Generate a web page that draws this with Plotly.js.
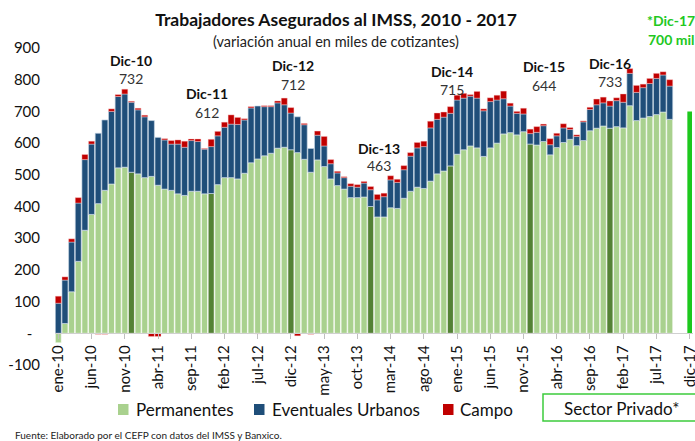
<!DOCTYPE html>
<html><head><meta charset="utf-8">
<script src="https://cdn.plot.ly/plotly-3.0.1.min.js"></script>
<style>html,body{margin:0;padding:0;background:#fff}#chart{width:695px;height:441px}</style>
</head><body><div id="chart"></div>
<script>
// ---- DATA ----
const monthNames = ['ene','feb','mar','abr','may','jun','jul','ago','sep','oct','nov','dic'];
const years = ['10','11','12','13','14','15','16','17'];
const categories = [];
years.forEach(y => monthNames.forEach(m => categories.push(m + '-' + y)));

const permanentes = [
  -30, 31, 131, 227, 325, 375, 409, 451, 471, 522, 524, 508,
  503, 491, 495, 467, 455, 451, 440, 435, 448, 448, 440, 441,
  469, 491, 491, 487, 505, 538, 550, 560, 568, 584, 587, 579,
  570, 549, 508, 547, 526, 487, 466, 455, 428, 428, 430, 400,
  367, 367, 396, 394, 426, 448, 461, 457, 480, 503, 512, 528,
  565, 579, 591, 585, 558, 585, 600, 629, 633, 626, 636, 597,
  594, 605, 563, 586, 602, 612, 592, 608, 639, 647, 654, 647,
  652, 648, 718, 671, 679, 684, 690, 698, 675
];
const eventuales = [
  95, 137, 157, 184, 223, 222, 222, 222, 229, 225, 231, 221,
  202, 192, 176, 151, 155, 146, 157, 152, 160, 157, 141, 148,
  154, 159, 169, 172, 168, 173, 167, 155, 147, 143, 134, 116,
  113, 109, 75, 78, 65, 48, 40, 36, 36, 33, 44, 53,
  54, 64, 88, 82, 90, 111, 124, 132, 168, 172, 170, 166,
  171, 163, 157, 157, 144, 146, 136, 111, 84, 68, 56, 33,
  40, 50, 32, 37, 46, 31, 29, 59, 67, 74, 73, 70,
  82, 81, 102, 89, 96, 104, 114, 117, 105
];
const campo = [
  22, 10, 10, 17, 16, 9, -3, -3, 8, 6, 15, 3,
  5, 5, -10, -10, 4, 11, 13, 19, 5, 8, 2, 23,
  14, 16, 29, 22, 4, 4, -2, 3, 3, 6, 21, 17,
  -8, 4, -3, 13, 30, 13, 5, 3, 8, 8, 5, 10,
  17, 11, 13, 10, 13, 11, 17, 17, 21, 20, 16, 21,
  15, 15, 5, 21, 6, 12, 15, 24, 9, 6, 18, 14,
  18, 5, 19, 8, 13, 6, 5, 3, 7, 18, 18, 16,
  9, 26, 15, 22, 11, 16, 16, 10, 20
];
const sectorPrivadoCat = ['dic-17'];
const sectorPrivado = [700];
const tickLabels = ['ene-10','jun-10','nov-10','abr-11','sep-11','feb-12','jul-12','dic-12',
  'may-13','oct-13','mar-14','ago-14','ene-15','jun-15','nov-15','abr-16','sep-16','feb-17','jul-17','dic-17'];
const highlightCats = ['dic-10','dic-11','dic-12','dic-13','dic-14','dic-15','dic-16'];
const highlightNames = ['Dic-10','Dic-11','Dic-12','Dic-13','Dic-14','Dic-15','Dic-16'];
const highlightValues = ['732','612','712','463','715','644','733'];
const yTickVals = [-100,0,100,200,300,400,500,600,700,800,900];
const yTickText = ['-100','-\u00a0\u00a0','100','200','300','400','500','600','700','800','900'];

// ---- LAYOUT HELPERS ----
const W = 695, H = 441, ML = 55, MR = 2, MT = 48, MB = 76;
const PW = W - ML - MR, PH = H - MT - MB;
const px = x => (x - ML) / PW;
const py = y => (H - MB - y) / PH;
const FONT = 'Lato, "Open Sans", sans-serif';

const nData = permanentes.length;
const xData = categories.slice(0, nData);
const permColors = xData.map(c => c.startsWith('dic') ? '#548235' : '#A9D18E');
const lineStyle = {color: 'rgba(255,255,255,0.85)', width: 0.7};

const traces = [
  {type: 'bar', name: 'Permanentes', x: xData, y: permanentes,
   marker: {color: permColors, line: lineStyle}, showlegend: false},
  {type: 'bar', name: 'Eventuales Urbanos', x: xData, y: eventuales,
   marker: {color: '#1F4E79', line: {color: 'rgba(200,215,230,0.9)', width: 0.7}}, showlegend: false},
  {type: 'bar', name: 'Campo', x: xData, y: campo,
   marker: {color: '#C00000', line: {color: 'rgba(255,200,200,0.8)', width: 0.5}}, showlegend: false},
  {type: 'bar', name: 'Sector Privado*', x: sectorPrivadoCat, y: sectorPrivado, width: 0.7,
   marker: {color: '#1DC81D'}, showlegend: false}
];

// label y positions (data units) for the highlight annotations
const nameY = [862, 755, 844, 584, 825, 841, 852];
const valY  = [804, 697, 786, 529, 770, 783, 793];
const xShift = [0, -4, 2, 8, 2, 14, 0];

const annotations = [];
const ann = o => annotations.push(Object.assign({showarrow: false, xanchor: 'center', yanchor: 'middle'}, o));
highlightCats.forEach((c, i) => {
  ann({x: c, y: nameY[i], xref: 'x', yref: 'y', text: '<b>' + highlightNames[i] + '</b>',
    xshift: xShift[i], font: {family: FONT, size: 14, color: '#111'}});
  ann({x: c, y: valY[i], xref: 'x', yref: 'y', text: highlightValues[i],
    xshift: xShift[i], font: {family: FONT, size: 14, color: '#333'}});
});
ann({xref: 'paper', yref: 'paper', x: px(336), y: py(42), text: '(variación anual en miles de cotizantes)',
  font: {family: FONT, size: 14.5, color: '#222'}});
ann({xref: 'paper', yref: 'paper', x: px(671), y: py(20), text: '<b>*Dic-17</b>',
  font: {family: FONT, size: 14, color: '#22C81E'}});
ann({xref: 'paper', yref: 'paper', x: px(671), y: py(40), text: '<b>700 mil</b>',
  font: {family: FONT, size: 14, color: '#22C81E'}});
ann({xref: 'paper', yref: 'paper', x: px(13), y: py(435), xanchor: 'left',
  text: 'Fuente: Elaborado por el CEFP con datos del IMSS y Banxico.',
  font: {family: FONT, size: 10, color: '#222'}});

// manual legend
const legendItems = [
  {name: traces[0].name, color: '#A9D18E', sq: 118, tx: 134},
  {name: traces[1].name, color: '#1F4E79', sq: 254, tx: 270},
  {name: traces[2].name, color: '#C00000', sq: 443, tx: 458}
];
const shapes = [];
legendItems.forEach(it => {
  shapes.push({type: 'rect', xref: 'paper', yref: 'paper', x0: px(it.sq), x1: px(it.sq + 10.5),
    y0: py(415), y1: py(404), fillcolor: it.color, line: {width: 0}});
  ann({xref: 'paper', yref: 'paper', x: px(it.tx), y: py(409.5), xanchor: 'left',
    text: it.name, font: {family: FONT, size: 17, color: '#111'}});
});
shapes.push({type: 'rect', xref: 'paper', yref: 'paper', x0: px(543), x1: px(700), y0: py(421), y1: py(394),
  line: {color: '#3CCB3C', width: 1.5}, fillcolor: 'rgba(0,0,0,0)'});
ann({xref: 'paper', yref: 'paper', x: px(621), y: py(408),
  text: traces[3].name, font: {family: FONT, size: 17, color: '#111'}});

const layout = {
  width: W, height: H,
  margin: {l: ML, r: MR, t: MT, b: MB, pad: 0},
  paper_bgcolor: '#fff', plot_bgcolor: '#fff',
  font: {family: FONT, color: '#222'},
  barmode: 'relative', bargap: 0.1,
  title: {text: '<b>Trabajadores Asegurados al IMSS, 2010 - 2017</b>', x: 336 / W, xanchor: 'center',
    y: 1 - 20 / H, yanchor: 'middle', xref: 'container', yref: 'container',
    font: {family: FONT, size: 17.5, color: '#111'}},
  xaxis: {type: 'category', categoryorder: 'array', categoryarray: categories, range: [-0.5, 95.5],
    anchor: 'free', position: 0.1, showline: true, linecolor: '#d0d0d0', linewidth: 1,
    ticks: 'outside', ticklen: 5, tickcolor: '#bfbfbf', tickmode: 'array',
    tickvals: tickLabels, ticktext: tickLabels, tickangle: -90,
    tickfont: {family: FONT, size: 15, color: '#111'}, showgrid: false, zeroline: false, fixedrange: true},
  yaxis: {range: [-100, 900], tickmode: 'array', tickvals: yTickVals, ticktext: yTickText,
    showgrid: false, zeroline: false, showline: false, ticks: '', ticklabelstandoff: 14,
    tickfont: {family: FONT, size: 15, color: '#111'}, fixedrange: true},
  annotations: annotations,
  shapes: shapes
};

Plotly.newPlot('chart', traces, layout, {displayModeBar: false, staticPlot: true});
</script>
</body></html>
